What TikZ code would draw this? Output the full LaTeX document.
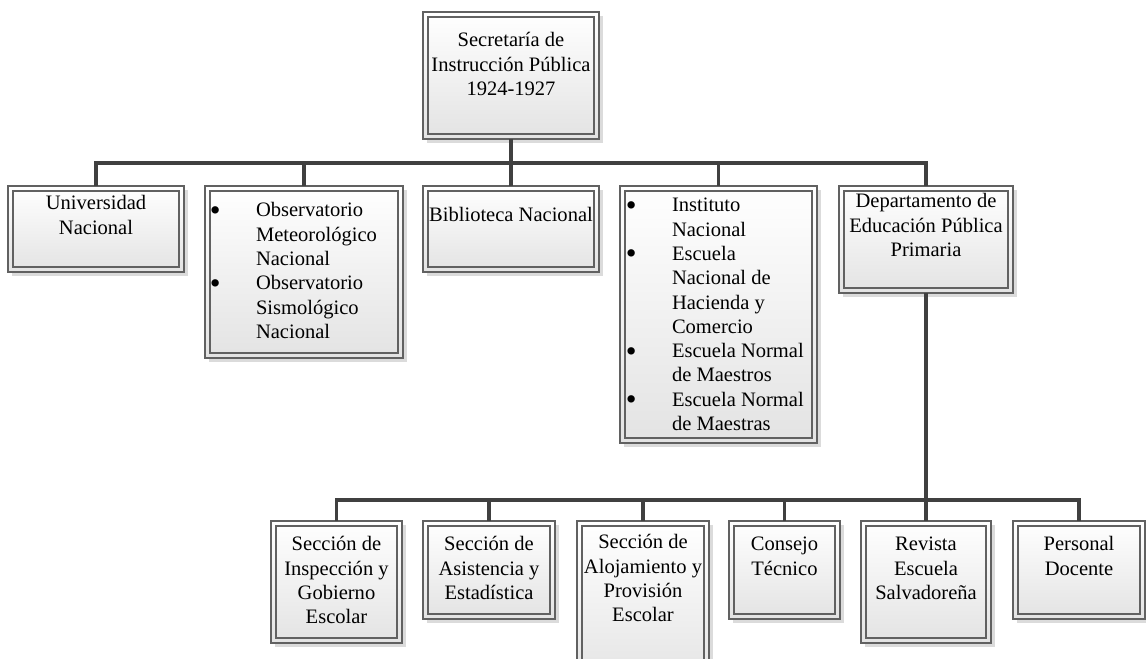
\documentclass[tikz,border=0pt]{standalone}
\usepackage{fontspec}
\setmainfont{Liberation Serif}
\usetikzlibrary{fit,shadows}
\newcommand\bul{\llap{\raisebox{-2.6pt}{\fontsize{23pt}{23pt}\selectfont •}\hspace{26.5pt}}}
\newcommand\orgbox[5]{%
  \node[box, fit={(#2,#3) (#4,#5)}] (#1) {};
  \draw[inbox] ([shift={(5,5)}]#1.north west) rectangle ([shift={(-5,-5)}]#1.south east);
}
\begin{document}
\begin{tikzpicture}[x=0.75pt,y=-0.75pt,
  box/.style={draw=black!62, line width=0.9pt, top color=white, bottom color=black!11,
    inner sep=0pt, outer sep=0pt,
    drop shadow={shadow xshift=3pt, shadow yshift=-3pt, fill=black!14, opacity=1}},
  inbox/.style={draw=black!62, line width=0.9pt},
  conn/.style={draw=black!75, line width=2.3pt},
  txt/.style={inner sep=0pt, outer sep=0pt, font=\fontsize{15.4pt}{18.2pt}\selectfont, text=black},
]
\useasboundingbox (0,0) rectangle (1146,659);
\clip (0,0) rectangle (1146,659);

% bus points
\coordinate (b1) at (511,163);
\coordinate (b2) at (926,500);

% boxes
\orgbox{top}{423}{12}{599}{139}
\orgbox{univ}{8}{186}{184}{272}
\orgbox{obs}{205}{186}{403}{358}
\orgbox{bib}{423}{186}{599}{272}
\orgbox{inst}{620}{186}{817}{443}
\orgbox{dep}{839}{186}{1013}{293}
\orgbox{insp}{271}{521}{402}{643}
\orgbox{asis}{423}{521}{555}{619}
\orgbox{aloj}{577}{521}{709}{690}
\orgbox{cons}{729}{521}{840}{619}
\orgbox{rev}{861}{521}{991}{643}
\orgbox{pers}{1013}{521}{1145}{619}

% connectors
\draw[conn] (top.south) -- (b1);
\draw[conn] (b1) -| (univ.north);
\draw[conn] (b1) -| (obs.north);
\draw[conn] (b1) -- (bib.north);
\draw[conn] (b1) -| (inst.north);
\draw[conn] (b1) -| (dep.north);
\draw[conn] (dep.south) -- (b2);
\draw[conn] (b2) -| (insp.north);
\draw[conn] (b2) -| (asis.north);
\draw[conn] (b2) -| (aloj.north);
\draw[conn] (b2) -| (cons.north);
\draw[conn] (b2) -- (rev.north);
\draw[conn] (b2) -| (pers.north);

% texts
\node[txt, anchor=north, align=center] (top-t) at (511,30) {\strut Secretaría de\\Instrucción Pública\\1924-1927};
\node[txt, anchor=north, align=center] (univ-t) at (96,193) {\strut Universidad\\Nacional};
\node[txt, anchor=north west, align=left] (obs-t) at (256,200) {\strut\bul Observatorio\\Meteorológico\\Nacional\\\bul Observatorio\\Sismológico\\Nacional};
\node[txt, anchor=north, align=center] (bib-t) at (511,205) {\strut Biblioteca Nacional};
\node[txt, anchor=north west, align=left] (inst-t) at (672,195) {\strut\bul Instituto\\Nacional\\\bul Escuela\\Nacional de\\Hacienda y\\Comercio\\\bul Escuela Normal\\de Maestros\\\bul Escuela Normal\\de Maestras};
\node[txt, anchor=north, align=center] (dep-t) at (926,191) {\strut Departamento de\\Educación Pública\\Primaria};
\node[txt, anchor=north, align=center] (insp-t) at (336.5,534) {\strut Sección de\\Inspección y\\Gobierno\\Escolar};
\node[txt, anchor=north, align=center] (asis-t) at (489,534) {\strut Sección de\\Asistencia y\\Estadística};
\node[txt, anchor=north, align=center] (aloj-t) at (643,532) {\strut Sección de\\Alojamiento y\\Provisión\\Escolar};
\node[txt, anchor=north, align=center] (cons-t) at (784.5,534) {\strut Consejo\\Técnico};
\node[txt, anchor=north, align=center] (rev-t) at (926,534) {\strut Revista\\Escuela\\Salvadoreña};
\node[txt, anchor=north, align=center] (pers-t) at (1079,534) {\strut Personal\\Docente};
\end{tikzpicture}
\end{document}
